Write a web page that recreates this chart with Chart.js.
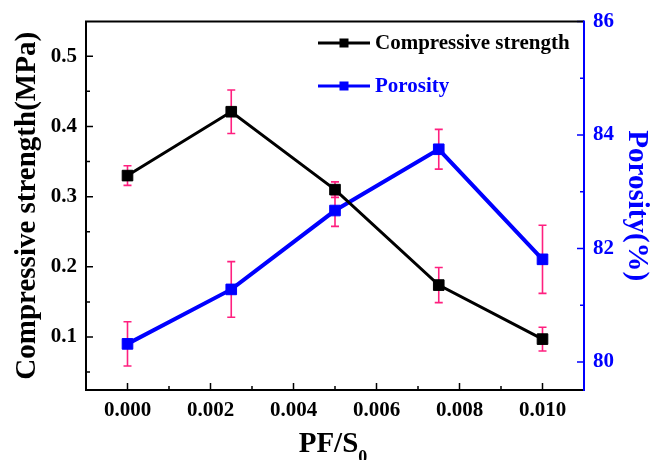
<!DOCTYPE html>
<html><head><meta charset="utf-8">
<script src="https://cdn.jsdelivr.net/npm/chart.js@4.4.0/dist/chart.umd.min.js"></script>
<style>html,body{margin:0;padding:0;background:#fff;} #wrap{width:654px;height:460px;}</style>
</head><body><div id="wrap"><canvas id="c" width="654" height="460"></canvas></div>
<script>
const xValues = [0, 0.0025, 0.005, 0.0075, 0.01];
const strength = [0.330, 0.421, 0.310, 0.174, 0.097];
const strengthErr = [0.014, 0.031, 0.011, 0.025, 0.017];
const porosity = [80.32, 81.28, 82.67, 83.75, 81.81];
const porosityErr = [0.39, 0.49, 0.28, 0.35, 0.60];
const xTicks = [0, 0.002, 0.004, 0.006, 0.008, 0.010];
const xMinorTicks = [0.001, 0.003, 0.005, 0.007, 0.009];
const strengthTicks = [0.1, 0.2, 0.3, 0.4, 0.5];
const strengthMinorTicks = [0.05, 0.15, 0.25, 0.35, 0.45];
const porosityTicks = [80, 82, 84, 86];
const porosityMinorTicks = [81, 83, 85];
const seriesNames = ['Compressive strength', 'Porosity'];
const xTitle = 'PF/S';
const xTitleSub = '0';
const yTitle = 'Compressive strength(MPa)';
const y2Title = 'Porosity(%)';

const BLACK = '#000000';
const BLUE = '#0000ff';
const PINK = '#ff1f7f';
const FONT = '"Liberation Serif", "Times New Roman", serif';

const errPlugin = {
  id: 'errbars',
  beforeDatasetsDraw(chart) {
    const ctx = chart.ctx;
    const xs = chart.scales.x;
    const sets = [[strength, strengthErr, chart.scales.y], [porosity, porosityErr, chart.scales.y2]];
    ctx.save();
    ctx.strokeStyle = PINK;
    ctx.lineWidth = 1.6;
    sets.forEach(([vals, errs, ys]) => {
      vals.forEach((v, i) => {
        const px = xs.getPixelForValue(xValues[i]);
        const t = ys.getPixelForValue(v + errs[i]);
        const b = ys.getPixelForValue(v - errs[i]);
        ctx.beginPath();
        ctx.moveTo(px, t); ctx.lineTo(px, b);
        ctx.moveTo(px - 4, t); ctx.lineTo(px + 4, t);
        ctx.moveTo(px - 4, b); ctx.lineTo(px + 4, b);
        ctx.stroke();
      });
    });
    ctx.restore();
  }
};

const framePlugin = {
  id: 'frame',
  afterDraw(chart) {
    const ctx = chart.ctx;
    const a = chart.chartArea;
    const xs = chart.scales.x, ys = chart.scales.y, y2 = chart.scales.y2;
    ctx.save();
    // ticks (inward)
    ctx.lineWidth = 1.5;
    ctx.strokeStyle = BLACK;
    ctx.beginPath();
    xTicks.forEach(v => { const p = xs.getPixelForValue(v); ctx.moveTo(p, a.bottom); ctx.lineTo(p, a.bottom - 7); });
    xMinorTicks.forEach(v => { const p = xs.getPixelForValue(v); ctx.moveTo(p, a.bottom); ctx.lineTo(p, a.bottom - 4); });
    strengthTicks.forEach(v => { const p = ys.getPixelForValue(v); ctx.moveTo(a.left, p); ctx.lineTo(a.left + 7, p); });
    strengthMinorTicks.forEach(v => { const p = ys.getPixelForValue(v); ctx.moveTo(a.left, p); ctx.lineTo(a.left + 4, p); });
    ctx.stroke();
    ctx.strokeStyle = BLUE;
    ctx.beginPath();
    porosityTicks.forEach(v => { const p = y2.getPixelForValue(v); ctx.moveTo(a.right, p); ctx.lineTo(a.right - 7, p); });
    porosityMinorTicks.forEach(v => { const p = y2.getPixelForValue(v); ctx.moveTo(a.right, p); ctx.lineTo(a.right - 4, p); });
    ctx.stroke();
    // frame
    ctx.lineWidth = 2;
    ctx.strokeStyle = BLACK;
    ctx.beginPath();
    ctx.moveTo(a.right, a.top); ctx.lineTo(a.left, a.top); ctx.lineTo(a.left, a.bottom); ctx.lineTo(a.right, a.bottom);
    ctx.stroke();
    ctx.strokeStyle = BLUE;
    ctx.beginPath();
    ctx.moveTo(a.right, a.top - 1); ctx.lineTo(a.right, a.bottom + 1);
    ctx.stroke();

    // legend
    const colors = [BLACK, BLUE];
    const rowY = [43, 86];
    seriesNames.forEach((name, i) => {
      const y = rowY[i];
      ctx.strokeStyle = colors[i];
      ctx.fillStyle = colors[i];
      ctx.lineWidth = 3;
      ctx.beginPath(); ctx.moveTo(318, y); ctx.lineTo(370, y); ctx.stroke();
      ctx.fillRect(344 - 4.5, y - 4.5, 9, 9);
      ctx.font = 'bold 21px ' + FONT;
      ctx.textAlign = 'left';
      ctx.textBaseline = 'middle';
      ctx.fillText(name, 375, y + 1);
    });

    // x title with subscript
    ctx.fillStyle = BLACK;
    ctx.textBaseline = 'alphabetic';
    ctx.textAlign = 'left';
    ctx.font = 'bold 29px ' + FONT;
    const w = ctx.measureText(xTitle).width;
    ctx.font = 'bold 18px ' + FONT;
    const ws = ctx.measureText(xTitleSub).width;
    const cx = (a.left + a.right) / 2 - 2;
    const x0 = cx - (w + ws) / 2;
    ctx.font = 'bold 29px ' + FONT;
    ctx.fillText(xTitle, x0, 452);
    ctx.font = 'bold 18px ' + FONT;
    ctx.fillText(xTitleSub, x0 + w, 463);
    ctx.restore();
  }
};

new Chart(document.getElementById('c'), {
  type: 'line',
  data: {
    datasets: [
      {
        label: seriesNames[0],
        data: xValues.map((x, i) => ({x, y: strength[i]})),
        yAxisID: 'y',
        borderColor: BLACK, backgroundColor: BLACK,
        borderWidth: 3,
        pointStyle: 'rect', pointRadius: 7.5, pointBorderWidth: 1,
        pointBackgroundColor: BLACK, pointBorderColor: BLACK,
        tension: 0
      },
      {
        label: seriesNames[1],
        data: xValues.map((x, i) => ({x, y: porosity[i]})),
        yAxisID: 'y2',
        borderColor: BLUE, backgroundColor: BLUE,
        borderWidth: 4,
        pointStyle: 'rect', pointRadius: 7.5, pointBorderWidth: 1,
        pointBackgroundColor: BLUE, pointBorderColor: BLUE,
        tension: 0
      }
    ]
  },
  options: {
    responsive: false,
    animation: false,
    events: [],
    layout: { padding: { top: 21, left: 0, right: 0, bottom: 0 } },
    plugins: { legend: { display: false }, tooltip: { enabled: false } },
    scales: {
      x: {
        type: 'linear', position: 'bottom', min: -0.001, max: 0.011,
        grid: { display: false, drawTicks: false },
        border: { display: false },
        afterBuildTicks: s => { s.ticks = xTicks.map(v => ({value: v})); },
        afterFit: s => { s.height = 70; },
        ticks: { padding: 8, color: BLACK, font: { family: FONT, size: 21, weight: 'bold' }, callback: v => Number(v).toFixed(3) }
      },
      y: {
        type: 'linear', position: 'left', min: 0.0245, max: 0.5494,
        grid: { display: false, drawTicks: false },
        border: { display: false },
        afterBuildTicks: s => { s.ticks = strengthTicks.map(v => ({value: v})); },
        afterFit: s => { s.width = 86; },
        ticks: { padding: 9, color: BLACK, font: { family: FONT, size: 21, weight: 'bold' }, callback: v => Number(v).toFixed(1) },
        title: { display: true, text: yTitle, color: BLACK, padding: { top: 10, bottom: 0 }, font: { family: FONT, size: 29, weight: 'bold' } }
      },
      y2: {
        type: 'linear', position: 'right', min: 79.507, max: 86,
        grid: { display: false, drawTicks: false },
        border: { display: false },
        afterBuildTicks: s => { s.ticks = porosityTicks.map(v => ({value: v})); },
        afterFit: s => { s.width = 70; },
        ticks: { padding: 9, color: BLUE, font: { family: FONT, size: 21, weight: 'bold' }, callback: v => Number(v).toFixed(0) },
        title: { display: true, text: y2Title, color: BLUE, padding: { top: 0, bottom: 0 }, font: { family: FONT, size: 29, weight: 'bold' } }
      }
    }
  },
  plugins: [errPlugin, framePlugin]
});
</script>
</body></html>
